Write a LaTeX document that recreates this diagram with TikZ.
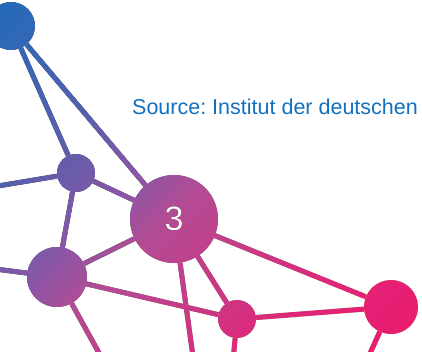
\documentclass[tikz,border=0pt]{standalone}
\usepackage{fontspec}
\setmainfont{Liberation Sans}
\frenchspacing

% palette of the network, from the blue corner to the pink corner
\definecolor{netblue}{RGB}{10,111,191}
\definecolor{netB}{RGB}{85,96,172}
\definecolor{netD}{RGB}{138,86,166}
\definecolor{netC}{RGB}{178,76,148}
\definecolor{netE}{RGB}{224,38,122}
\definecolor{netpink}{RGB}{232,28,112}
\definecolor{srcblue}{RGB}{18,112,192}

% diagonal colour ramp laid over the black network
\pgfdeclarehorizontalshading{netgrad}{100bp}{%
  color(0bp)=(netblue); color(7.1bp)=(netblue); color(30.8bp)=(netB);
  color(40.9bp)=(netD); color(46.8bp)=(netC); color(65.9bp)=(netE);
  color(75.8bp)=(netpink); color(100bp)=(netpink)}

\begin{document}
\begin{tikzpicture}[x=1pt,y=-1pt,
  netlink/.style={line width=5pt, draw=black},
  netdot/.style={circle, fill=black, draw=none, inner sep=0pt, minimum size=#1},
  ]
\useasboundingbox (0,0) rectangle (422,351);
\fill[white] (-10,-10) rectangle (432,361);

% nodes of the network
\node[netdot=48pt] (A) at (11,26) {};
\node[netdot=38pt] (B) at (76,173) {};
\node[netdot=88pt, text=white, font=\fontsize{34}{40}\selectfont] (C) at (174,219) {3};
\node[netdot=60pt] (D) at (57,277) {};
\node[netdot=38pt] (E) at (237,319) {};
\node[netdot=54pt] (F) at (391,307) {};

% loose ends running off the page
\coordinate (Bw) at (-20,189);
\coordinate (Dw) at (-20,267);
\coordinate (Ds) at (109,371);
\coordinate (Cs) at (195,371);
\coordinate (Es) at (232,371);
\coordinate (Fs) at (362,371);

% links
\draw[netlink] (A) -- (B);
\draw[netlink] (A) -- (C);
\draw[netlink] (B) -- (Bw);
\draw[netlink] (B) -- (D);
\draw[netlink] (B) -- (C);
\draw[netlink] (D) -- (Dw);
\draw[netlink] (D) -- (C);
\draw[netlink] (D) -- (E);
\draw[netlink] (D) -- (Ds);
\draw[netlink] (C) -- (Cs);
\draw[netlink] (C) -- (E);
\draw[netlink] (C) -- (F);
\draw[netlink] (E) -- (F);
\draw[netlink] (E) -- (Es);
\draw[netlink] (F) -- (Fs);

% colour the black network with the ramp; white stays white
\begin{scope}
  \clip (-10,-10) rectangle (432,361);
  \shade[shading=netgrad, shading angle=-45, blend mode=lighten]
    (0,0) rectangle (422,422);
\end{scope}

\node[anchor=base west, inner sep=0pt, text=srcblue,
      font=\fontsize{21.5}{25}\selectfont] (src) at (132,114.5)
      {Source: Institut der deutschen};
\end{tikzpicture}
\end{document}
